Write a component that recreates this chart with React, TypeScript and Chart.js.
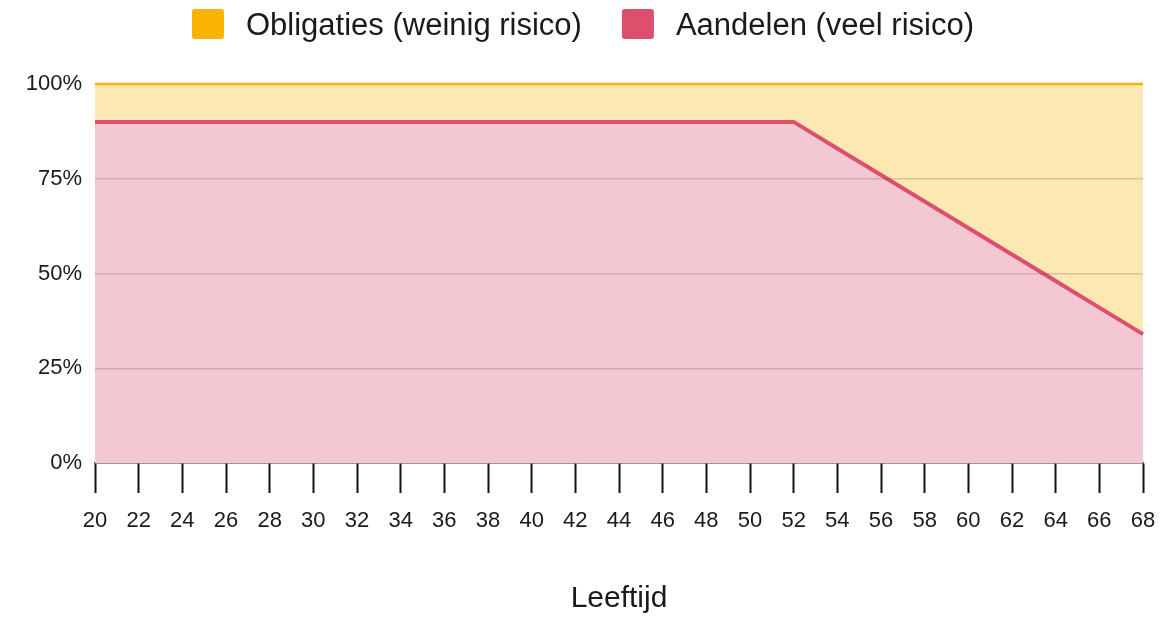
import React, { useEffect, useRef } from "react";
import { Chart, registerables } from "chart.js";

Chart.register(...registerables);

const ages = ["20","22","24","26","28","30","32","34","36","38","40","42","44","46","48","50","52","54","56","58","60","62","64","66","68"];
const aandelen = [90,90,90,90,90,90,90,90,90,90,90,90,90,90,90,90,90,83,76,69,62,55,48,41,34];
const obligaties = [10,10,10,10,10,10,10,10,10,10,10,10,10,10,10,10,10,17,24,31,38,45,52,59,66];
const yTickValues = [0, 25, 50, 75, 100];
const legendOrder = ["Obligaties (weinig risico)", "Aandelen (veel risico)"];

const FONT = "'Liberation Sans', Arial, sans-serif";
const YELLOW = "#FAB300";
const YELLOW_FILL = "#FCE8B2";
const RED = "#DD506D";
const RED_FILL = "#F3C8D2";

const customLegend = {
  id: "customLegend",
  afterDraw(chart: any) {
    const ctx = chart.ctx;
    const items = legendOrder.map((label) => {
      const ds = chart.data.datasets.find((d: any) => d.label === label);
      return { label, color: ds ? ds.borderColor : "#000" };
    });
    const boxW = 32, boxH = 30, gapText = 22, gapItem = 40, cy = 24;
    ctx.save();
    ctx.font = `31px ${FONT}`;
    const widths = items.map((it) => ctx.measureText(it.label).width);
    const total = widths.reduce((a, w) => a + boxW + gapText + w, 0) + gapItem * (items.length - 1);
    let x = (chart.width - total) / 2 - 5;
    items.forEach((it, i) => {
      ctx.fillStyle = it.color;
      ctx.beginPath();
      (ctx as any).roundRect(x, cy - boxH / 2, boxW, boxH, 3);
      ctx.fill();
      x += boxW + gapText;
      ctx.fillStyle = "#1a1a1a";
      ctx.textAlign = "left";
      ctx.textBaseline = "middle";
      ctx.fillText(it.label, x, cy + 2);
      x += widths[i] + gapItem;
    });
    ctx.restore();
  },
};

export default function App() {
  const ref = useRef<HTMLCanvasElement | null>(null);

  useEffect(() => {
    document.body.style.margin = "0";
    if (!ref.current) return;
    const chart = new Chart(ref.current, {
      type: "line",
      data: {
        labels: ages,
        datasets: [
          {
            label: "Aandelen (veel risico)",
            data: aandelen,
            borderColor: RED,
            backgroundColor: RED_FILL,
            borderWidth: 4,
            fill: "origin",
            pointRadius: 0,
            tension: 0,
            clip: false as any,
          },
          {
            label: "Obligaties (weinig risico)",
            data: obligaties,
            borderColor: YELLOW,
            backgroundColor: YELLOW_FILL,
            borderWidth: 2.5,
            fill: "-1",
            pointRadius: 0,
            tension: 0,
            clip: false as any,
          },
        ],
      },
      options: {
        animation: false,
        responsive: false,
        layout: { padding: { top: 84, right: 33, left: 0, bottom: 0 } },
        plugins: {
          legend: { display: false },
          tooltip: { enabled: false },
        },
        scales: {
          x: {
            type: "category",
            offset: false,
            afterFit: (s: any) => { s.height = 154; },
            grid: {
              drawOnChartArea: false,
              drawTicks: true,
              tickLength: 30,
              tickColor: "#111",
              tickWidth: 2,
            },
            border: { display: true, color: "#333", width: 1.5 },
            ticks: {
              color: "#1a1a1a",
              font: { family: FONT, size: 22 },
              padding: 15,
              maxRotation: 0,
              autoSkip: false,
            },
            title: {
              display: true,
              text: "Leeftijd",
              color: "#1a1a1a",
              font: { family: FONT, size: 30 },
              padding: { top: 0, bottom: 0 },
            },
          },
          y: {
            stacked: true,
            min: 0,
            max: 100,
            afterFit: (s: any) => { s.width = 95; },
            afterBuildTicks: (s: any) => { s.ticks = yTickValues.map((v) => ({ value: v })); },
            grid: {
              z: 1,
              drawTicks: false,
              lineWidth: 1.5,
              color: (c: any) => (c.tick && (c.tick.value === 0 || c.tick.value === 100) ? "rgba(0,0,0,0)" : "rgba(90,40,40,0.2)"),
            },
            border: { display: false },
            ticks: {
              color: "#1a1a1a",
              font: { family: FONT, size: 22 },
              padding: 13,
              callback: (v: any) => v + "%",
            },
          },
        },
      },
      plugins: [customLegend],
    });
    return () => chart.destroy();
  }, []);

  return (
    <div style={{ width: 1176, height: 617 }}>
      <canvas ref={ref} width={1176} height={617} />
    </div>
  );
}
